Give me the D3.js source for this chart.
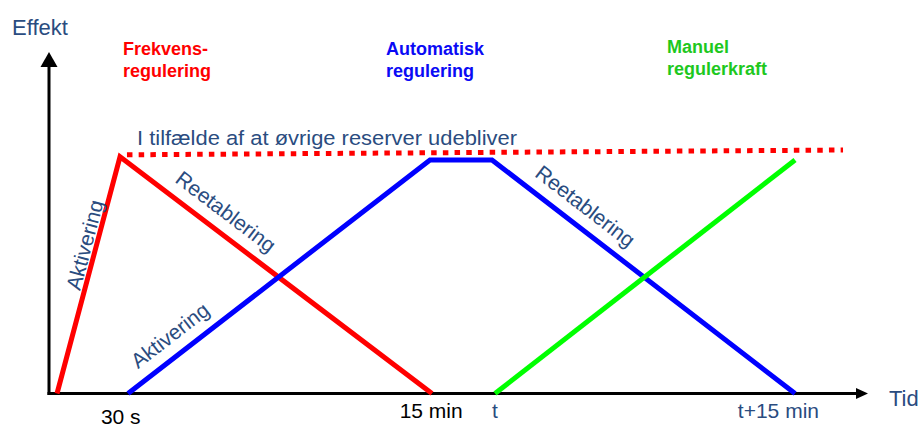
<!DOCTYPE html>
<html>
<head>
    <meta charset="utf-8">
    <title>Reserver</title>
    <style type="text/css">
    body { margin: 0; background: #fff; }
    svg { display: block; font-family: "Liberation Sans", Arial, sans-serif; }
    </style>
</head>
<body>

    <script src="https://d3js.org/d3.v7.min.js"></script>
    <script>
      // time runs 0..100 along the axis, effect 0..100 up the axis (arbitrary units)
      var frekvens   = [[0.98, 0], [8.67, 69.3], [46.76, 0]];
      var automatisk = [[9.65, 0], [46.52, 68.4], [54.09, 68.4], [91.09, 0]];
      var manuel     = [[54.46, 0], [91.09, 68.4]];
      var reserve    = [[9.52, 69.9], [96.95, 71.3]];

      var tickValues = [8.7, 46.6, 54.4, 89.0];
      var tickLabels = ["30 s", "15 min", "t", "t+15 min"];

      var headings = [["Frekvens-", "regulering"], ["Automatisk", "regulering"], ["Manuel", "regulerkraft"]];
      var noteText = "I tilfælde af at øvrige reserver udebliver";

      var W = 920, H = 427;
      var textBlue = "#2a4c7f";

      var svg = d3.select("body")
          .append("svg")
          .attr("width", W)
          .attr("height", H);

      var x = d3.scaleLinear().domain([0, 100]).range([49, 868]);
      var y = d3.scaleLinear().domain([0, 100]).range([393.5, 52]);

      var line = d3.line()
          .x(function(d){ return x(d[0]); })
          .y(function(d){ return y(d[1]); });

      // axes with arrows
      svg.append("line")
          .attr("x1", x(0)).attr("x2", x(0))
          .attr("y1", y(0) + 1.5).attr("y2", y(100) + 14)
          .attr("stroke", "#000").attr("stroke-width", 3);
      svg.append("path")
          .attr("d", "M" + x(0) + "," + y(100) + " l-8.5,15 l17,0 z")
          .attr("fill", "#000");

      svg.append("line")
          .attr("x1", x(0) - 1.5).attr("x2", x(100) - 10)
          .attr("y1", y(0)).attr("y2", y(0))
          .attr("stroke", "#000").attr("stroke-width", 3);
      svg.append("path")
          .attr("d", "M" + x(100) + "," + y(0) + " l-12,-5.5 l0,11 z")
          .attr("fill", "#000");

      svg.append("text")
          .attr("x", 12).attr("y", 35)
          .attr("fill", textBlue)
          .style("font-size", "22px")
          .text("Effekt");
      svg.append("text")
          .attr("x", 889).attr("y", 406)
          .attr("fill", textBlue)
          .style("font-size", "22px")
          .text("Tid");

      //tick labels under the time axis
      var xAxis = svg.append("g")
          .attr("transform", "translate(0," + y(0) + ")")
          .call(d3.axisBottom(x).tickValues(tickValues)
              .tickFormat(function(d, i){ return tickLabels[i]; })
              .tickSize(0));
      xAxis.select(".domain").remove();
      xAxis.selectAll("text")
          .attr("dy", null)
          .attr("y", function(d, i){ return i === 0 ? 30 : 24.5; })
          .attr("fill", function(d, i){ return i < 2 ? "#000" : textBlue; })
          .style("font-family", "'Liberation Sans', Arial, sans-serif")
          .style("font-size", "21px");

      // dotted reserve line
      svg.append("path")
          .attr("d", line(reserve))
          .attr("fill", "none")
          .attr("stroke", "#ff0000")
          .attr("stroke-width", 5)
          .attr("stroke-dasharray", "5.5,6.2");

      svg.append("text")
          .attr("x", 137).attr("y", 145)
          .attr("fill", textBlue)
          .style("font-size", "20.5px")
          .attr("textLength", 380)
          .attr("lengthAdjust", "spacingAndGlyphs")
          .text(noteText);

      var series = [
        {data: frekvens,   color: "#ff0000"},
        {data: automatisk, color: "#0000ff"},
        {data: manuel,     color: "#00ff00"}
      ];

      svg.selectAll(".series")
          .data(series)
          .enter()
          .append("path")
          .attr("class", "series")
          .attr("d", function(d){ return line(d.data); })
          .attr("fill", "none")
          .attr("stroke", function(d){ return d.color; })
          .attr("stroke-width", 5)
          .attr("stroke-linejoin", "miter");

      // rotated labels along segments
      var segLabels = [
        {text: "Aktivering",   pts: frekvens,   seg: 0, t: 0.616, off: 4},
        {text: "Reetablering", pts: frekvens,   seg: 1, t: 0.30,  off: 13},
        {text: "Aktivering",   pts: automatisk, seg: 0, t: 0.18,  off: 13},
        {text: "Reetablering", pts: automatisk, seg: 2, t: 0.267, off: 13}
      ];

      svg.selectAll(".seglabel")
          .data(segLabels)
          .enter()
          .append("text")
          .attr("class", "seglabel")
          .attr("text-anchor", "middle")
          .attr("fill", textBlue)
          .style("font-size", "21px")
          .attr("transform", function(d){
            var p0 = d.pts[d.seg], p1 = d.pts[d.seg + 1];
            var x0 = x(p0[0]), y0 = y(p0[1]), x1 = x(p1[0]), y1 = y(p1[1]);
            var a = Math.atan2(y1 - y0, x1 - x0);
            var px = x0 + d.t * (x1 - x0) + d.off * Math.sin(a);
            var py = y0 + d.t * (y1 - y0) - d.off * Math.cos(a);
            return "translate(" + px + "," + py + ") rotate(" + (a * 180 / Math.PI) + ")";
          })
          .text(function(d){ return d.text; });

      // headings
      var headPos = [[123, 55, "#ff0000"], [386, 55, "#0a0af5"], [667, 53, "#1ec81e"]];
      headings.forEach(function(h, i){
        var t = svg.append("text")
            .attr("x", headPos[i][0]).attr("y", headPos[i][1])
            .attr("fill", headPos[i][2])
            .style("font-size", "18px")
            .style("font-weight", "bold");
        h.forEach(function(s, j){
          t.append("tspan")
              .attr("x", headPos[i][0])
              .attr("dy", j === 0 ? 0 : 22)
              .text(s);
        });
      });
    </script>
</body>
</html>
